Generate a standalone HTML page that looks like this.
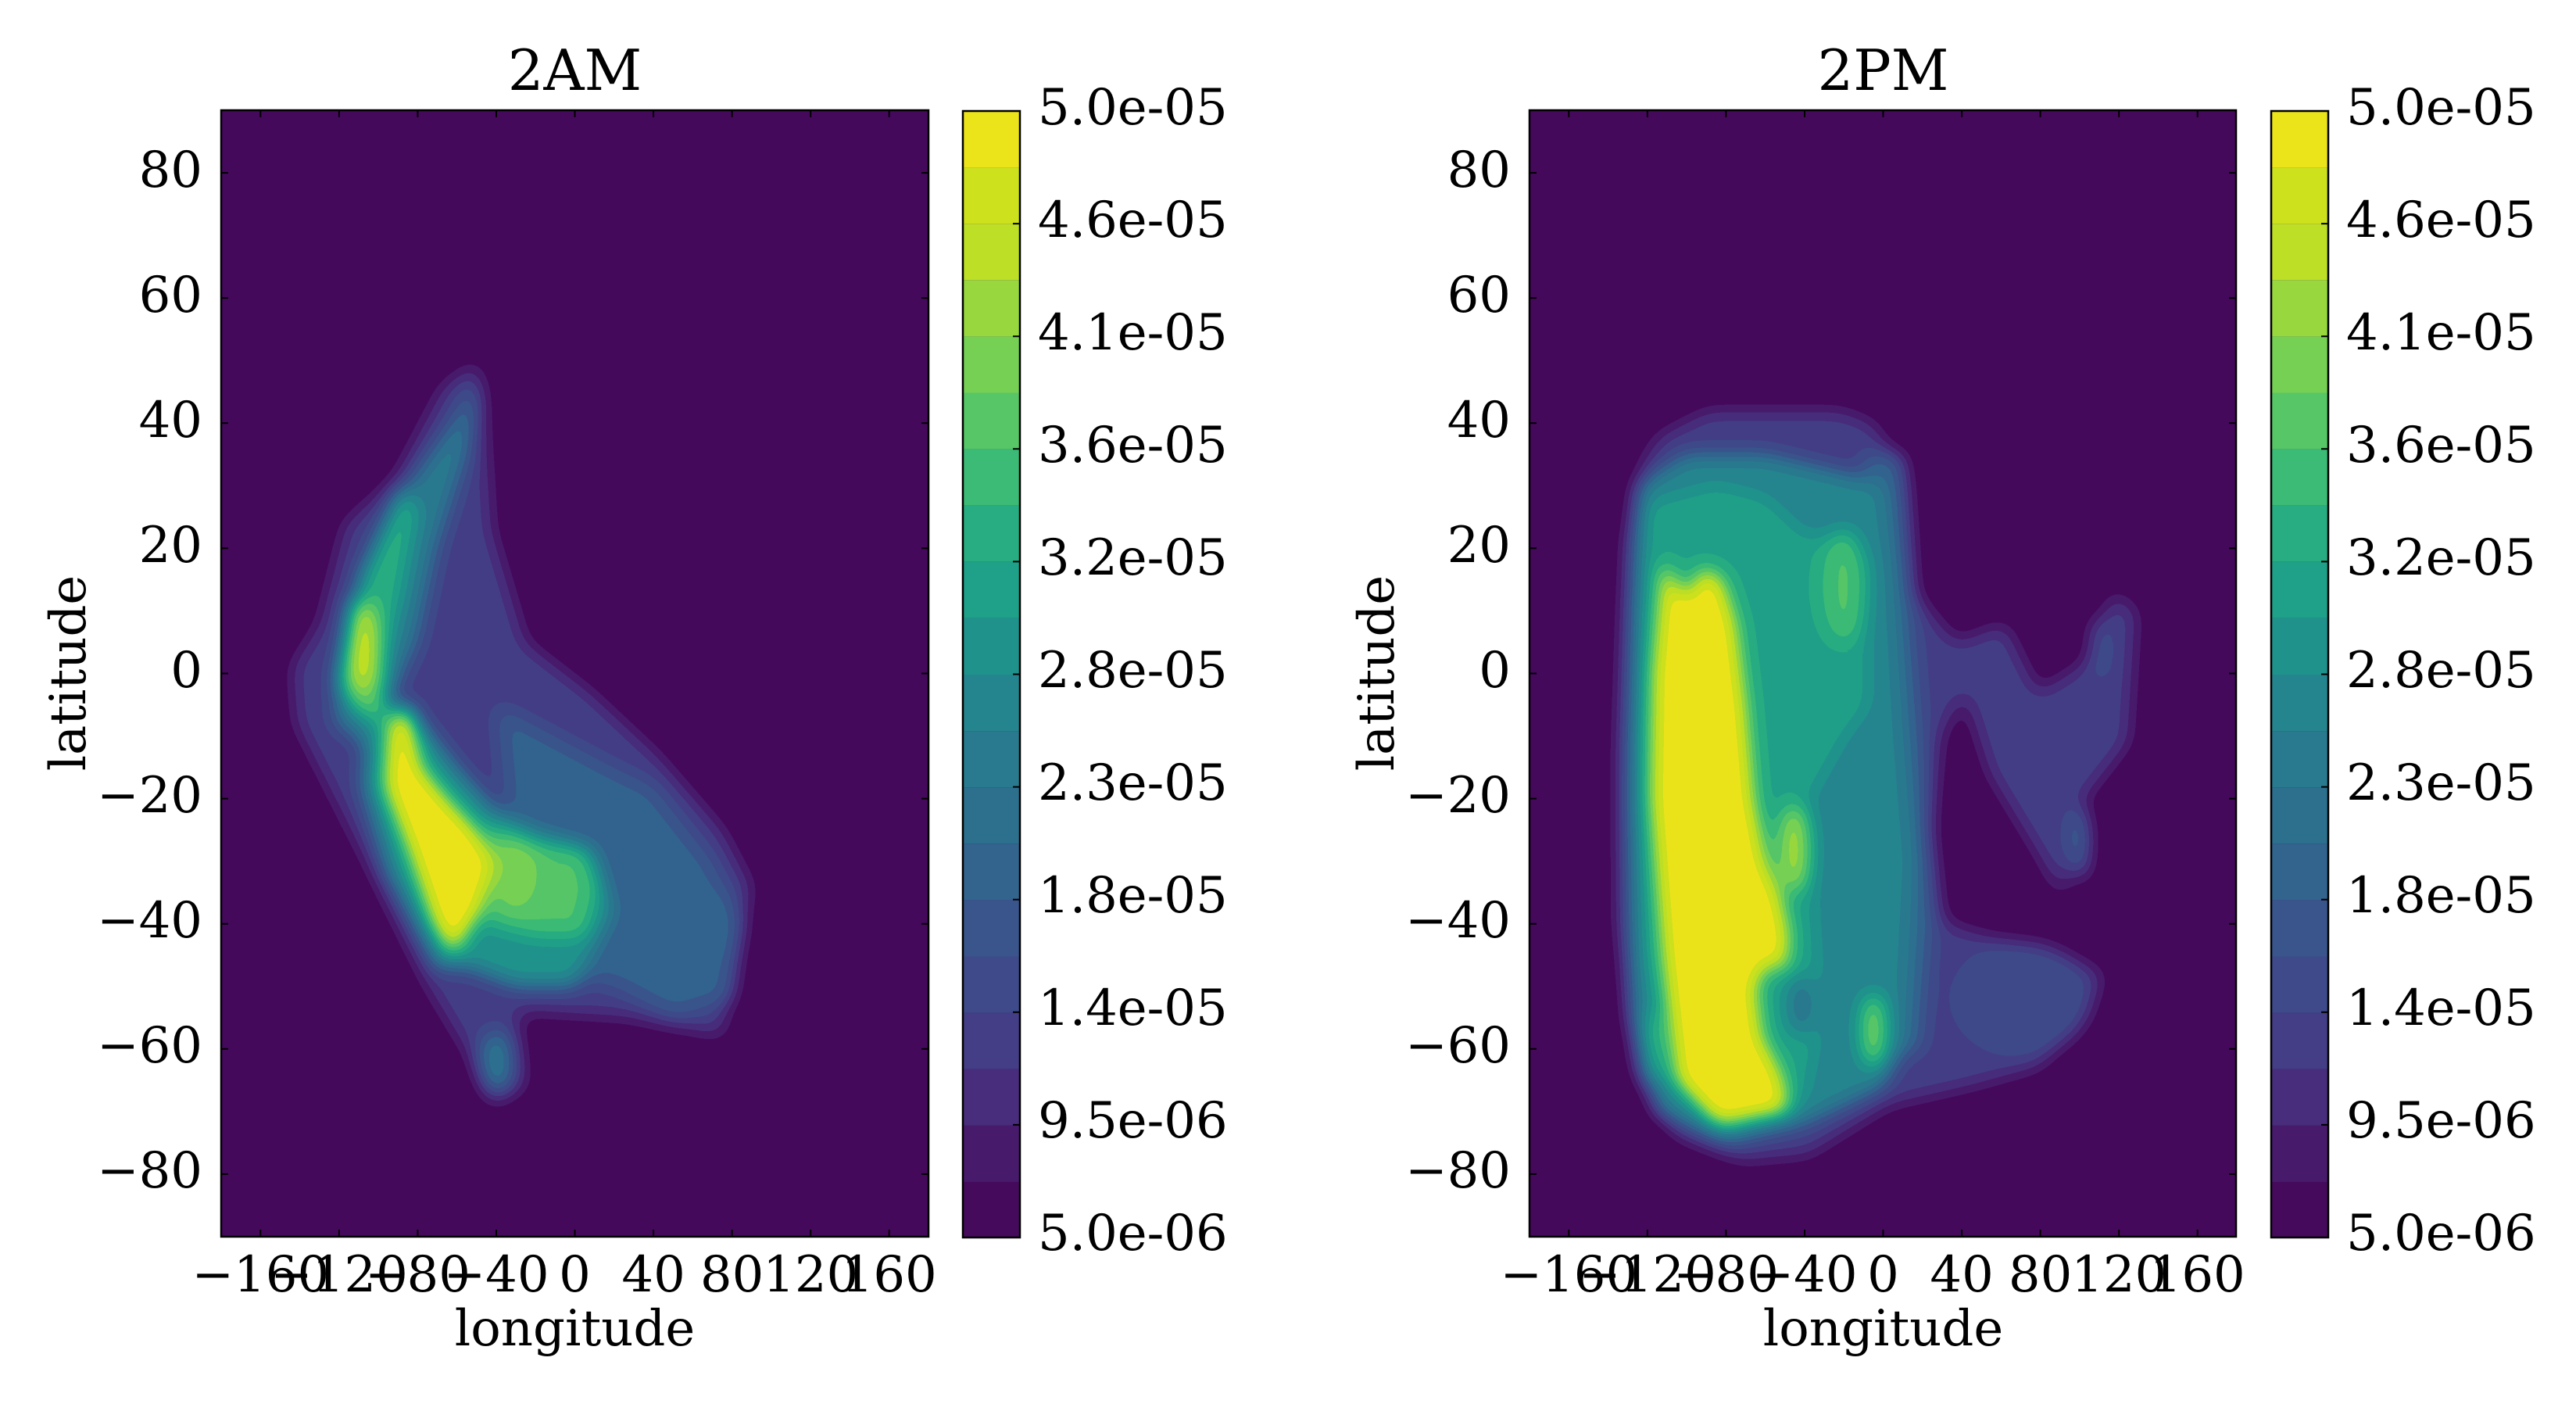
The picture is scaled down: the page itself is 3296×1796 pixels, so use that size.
<!DOCTYPE html>
<html><head><meta charset="utf-8"><style>
html,body{margin:0;padding:0;background:#fff}
svg{display:block}
text{font-family:"DejaVu Serif","Liberation Serif",serif;fill:#000}
</style></head><body>
<svg width="3296" height="1796" viewBox="0 0 3296 1796" xmlns="http://www.w3.org/2000/svg">
<defs>
<filter id="vir" filterUnits="userSpaceOnUse" x="0" y="0" width="3296" height="1796" color-interpolation-filters="sRGB">
<feGaussianBlur stdDeviation="13"/>
<feComponentTransfer>
<feFuncR type="discrete" tableValues=".271 .282 .278 .263 .243 .224 .196 .176 .161 .145 .122 .122 .153 .231 .337 .459 .596 .741 .804 .925"/>
<feFuncG type="discrete" tableValues=".039 .102 .176 .243 .290 .333 .392 .439 .478 .522 .573 .627 .678 .733 .776 .816 .847 .875 .882 .894"/>
<feFuncB type="discrete" tableValues=".361 .424 .482 .522 .537 .549 .557 .557 .557 .557 .549 .533 .506 .459 .404 .329 .243 .149 .114 .102"/>
<feFuncA type="linear" slope="0" intercept="1"/>
</feComponentTransfer>
</filter>
<clipPath id="c1"><rect x="283" y="141" width="905" height="1441"/></clipPath>
<clipPath id="c2"><rect x="1957" y="141" width="904" height="1441"/></clipPath>
</defs>

<!-- LEFT 2AM -->
<g clip-path="url(#c1)"><g filter="url(#vir)">
<rect x="200" y="60" width="1080" height="1600" fill="#000"/>
<g transform="matrix(2.5139 0 0 -8.0056 735.5 861.5)">
<polygon fill="rgb(45,45,45)" points="-50,49.7 -67,46 -92,31 -117,24 -130,8 -144,1 -142,-8 -121,-21 -100,-34 -75,-50 -54,-61 -42,-69 -25,-66 -29,-54 25,-55 75,-58 80,-50 90,-34 75,-25 42,-13 8,-3 -25,5 -42,23 -46,44"/>
<polygon fill="rgb(108,108,108)" points="-50,47 -62,40 -85,30 -100,20 -115,8 -122,0 -122,-8 -105,-12 -95,-5 -80,5 -70,20 -55,35"/>
<polygon fill="rgb(80,80,80)" points="-40,-5 -10,-10 20,-15 40,-18 70,-30 85,-40 80,-52 50,-55 20,-50 -10,-48 -30,-40"/>
<polygon fill="rgb(134,134,134)" points="-105,-5 -85,-5 -60,-15 -40,-22 -20,-25 10,-28 20,-38 0,-50 -30,-50 -55,-47 -70,-47 -95,-32 -108,-18"/>
<polygon fill="rgb(160,160,160)" points="-110,15 -100,22 -88,30 -80,26 -88,12 -98,0 -106,-6 -116,-4"/>
<polygon fill="rgb(190,190,190)" points="-114,12 -102,12 -96,0 -98,-8 -112,-6 -120,-2"/>
<ellipse cx="-108" cy="4" rx="8" ry="7" fill="rgb(228,228,228)"/>
<polygon fill="rgb(180,180,180)" points="-45,-24 -20,-27 5,-28 12,-34 5,-42 -20,-42 -45,-40"/>
<ellipse cx="-30" cy="-32" rx="12" ry="6" fill="rgb(200,200,200)"/>
<polygon fill="rgb(255,255,255)" points="-95,-8 -85,-5 -78,-15 -65,-20 -50,-25 -42,-30 -48,-38 -62,-45 -72,-40 -85,-28 -97,-18"/>
<ellipse cx="-40" cy="-62" rx="8" ry="5" fill="rgb(105,105,105)"/>
<ellipse cx="75" cy="-40" rx="6" ry="6" fill="rgb(85,85,85)"/>
<ellipse cx="48" cy="-40" rx="5" ry="4" fill="rgb(75,75,75)"/>
</g></g></g>

<!-- RIGHT 2PM -->
<g clip-path="url(#c2)"><g filter="url(#vir)">
<rect x="1880" y="60" width="1080" height="1600" fill="#000"/>
<g transform="matrix(2.5139 0 0 -8.0056 2409.5 861.5)">
<polygon fill="rgb(45,45,45)" points="-114,38 -89,42 -55,42 -22,42 -5,40 12,31 16,13 37,5 62,8 79,-3 104,2 117,13 129,10 125,-11 100,-21 95,-29 91,-36 79,-29 54,-16 41,-3 30,-10 25,-25 30,-38 33,-40 54,-42 87,-44 112,-48 104,-55 79,-63 45,-66 3,-69 -38,-77 -72,-78 -105,-74 -126,-63 -135,-40 -135,-11 -131,21 -122,34"/>
<polygon fill="rgb(85,85,85)" points="-10,35 10,35 15,10 20,-10 25,-40 20,-60 0,-62 -10,-40 -15,0"/>
<ellipse cx="70" cy="-52" rx="35" ry="9" fill="rgb(60,60,60)"/>
<polygon fill="rgb(120,120,120)" points="-125,30 -100,35 -60,35 -20,32 0,30 5,15 10,-10 15,-30 10,-60 0,-66 -40,-72 -80,-75 -115,-70 -128,-55 -130,-20 -128,10"/>
<polygon fill="rgb(150,150,150)" points="-120,27 -85,30 -60,28 -40,22 -20,22 -8,18 -8,-5 -20,-10 -38,-20 -35,-40 -32,-55 -40,-68 -80,-73 -110,-65 -122,-45 -125,-10"/>
<ellipse cx="-20" cy="14" rx="11" ry="9" fill="rgb(180,180,180)"/>
<ellipse cx="-5" cy="-57" rx="6" ry="6" fill="rgb(205,205,205)"/>
<ellipse cx="-45" cy="-28" rx="8" ry="7" fill="rgb(215,215,215)"/>
<polygon fill="rgb(255,255,255)" points="-112,18 -100,12 -92,17 -82,15 -75,8 -70,-5 -66,-20 -60,-30 -52,-36 -48,-42 -50,-48 -58,-46 -65,-50 -62,-58 -52,-64 -48,-70 -85,-72 -105,-65 -112,-45 -118,-20 -117,0"/>
<ellipse cx="-42" cy="-53" rx="7" ry="5" fill="rgb(100,100,100)"/>
<ellipse cx="-118" cy="-60" rx="4" ry="6" fill="rgb(170,170,170)"/>
<ellipse cx="100" cy="-27" rx="4" ry="6" fill="rgb(95,95,95)"/>
<ellipse cx="110" cy="4" rx="4" ry="5" fill="rgb(70,70,70)"/>
</g></g></g>

<g fill="none" stroke="#000" stroke-width="2.5">
<rect x="283" y="141" width="905" height="1441"/>
<rect x="1957" y="141" width="904" height="1441"/>
</g>

<!-- colorbars -->
<g id="cb">
<rect x="1232" y="142" width="73" height="1441" fill="#450a5c"/>
<rect x="1232" y="142" width="73" height="72.1" fill="#ece41a"/>
<rect x="1232" y="214.1" width="73" height="72.1" fill="#cde11d"/>
<rect x="1232" y="286.2" width="73" height="72.1" fill="#bddf26"/>
<rect x="1232" y="358.3" width="73" height="72.1" fill="#98d83e"/>
<rect x="1232" y="430.4" width="73" height="72.1" fill="#75d054"/>
<rect x="1232" y="502.5" width="73" height="72.1" fill="#56c667"/>
<rect x="1232" y="574.6" width="73" height="72.1" fill="#3bbb75"/>
<rect x="1232" y="646.7" width="73" height="72.1" fill="#27ad81"/>
<rect x="1232" y="718.8" width="73" height="72.1" fill="#1fa088"/>
<rect x="1232" y="790.9" width="73" height="72.1" fill="#1f928c"/>
<rect x="1232" y="863" width="73" height="72.1" fill="#25858e"/>
<rect x="1232" y="935.1" width="73" height="72.1" fill="#297a8e"/>
<rect x="1232" y="1007.2" width="73" height="72.1" fill="#2d708e"/>
<rect x="1232" y="1079.3" width="73" height="72.1" fill="#32648e"/>
<rect x="1232" y="1151.4" width="73" height="72.1" fill="#39558c"/>
<rect x="1232" y="1223.5" width="73" height="72.1" fill="#3e4a89"/>
<rect x="1232" y="1295.6" width="73" height="72.1" fill="#433e85"/>
<rect x="1232" y="1367.7" width="73" height="72.1" fill="#472d7b"/>
<rect x="1232" y="1439.8" width="73" height="72.1" fill="#481a6c"/>
<rect x="1232" y="142" width="73" height="1441" fill="none" stroke="#000" stroke-width="2.5"/>
</g>
<g transform="translate(1674,0)">
<rect x="1232" y="142" width="73" height="1441" fill="#450a5c"/>
<rect x="1232" y="142" width="73" height="72.1" fill="#ece41a"/>
<rect x="1232" y="214.1" width="73" height="72.1" fill="#cde11d"/>
<rect x="1232" y="286.2" width="73" height="72.1" fill="#bddf26"/>
<rect x="1232" y="358.3" width="73" height="72.1" fill="#98d83e"/>
<rect x="1232" y="430.4" width="73" height="72.1" fill="#75d054"/>
<rect x="1232" y="502.5" width="73" height="72.1" fill="#56c667"/>
<rect x="1232" y="574.6" width="73" height="72.1" fill="#3bbb75"/>
<rect x="1232" y="646.7" width="73" height="72.1" fill="#27ad81"/>
<rect x="1232" y="718.8" width="73" height="72.1" fill="#1fa088"/>
<rect x="1232" y="790.9" width="73" height="72.1" fill="#1f928c"/>
<rect x="1232" y="863" width="73" height="72.1" fill="#25858e"/>
<rect x="1232" y="935.1" width="73" height="72.1" fill="#297a8e"/>
<rect x="1232" y="1007.2" width="73" height="72.1" fill="#2d708e"/>
<rect x="1232" y="1079.3" width="73" height="72.1" fill="#32648e"/>
<rect x="1232" y="1151.4" width="73" height="72.1" fill="#39558c"/>
<rect x="1232" y="1223.5" width="73" height="72.1" fill="#3e4a89"/>
<rect x="1232" y="1295.6" width="73" height="72.1" fill="#433e85"/>
<rect x="1232" y="1367.7" width="73" height="72.1" fill="#472d7b"/>
<rect x="1232" y="1439.8" width="73" height="72.1" fill="#481a6c"/>
<rect x="1232" y="142" width="73" height="1441" fill="none" stroke="#000" stroke-width="2.5"/>
</g>

<g>
<g stroke="#000" stroke-width="2">
<path d="M333.3,1582v-9M333.3,141v9M433.9,1582v-9M433.9,141v9M534.4,1582v-9M534.4,141v9M635,1582v-9M635,141v9M735.5,1582v-9M735.5,141v9M836.1,1582v-9M836.1,141v9M936.6,1582v-9M936.6,141v9M1037.2,1582v-9M1037.2,141v9M1137.7,1582v-9M1137.7,141v9"/>
<path d="M283,1501.9h9M1188,1501.9h-9M283,1341.8h9M1188,1341.8h-9M283,1181.7h9M1188,1181.7h-9M283,1021.6h9M1188,1021.6h-9M283,861.5h9M1188,861.5h-9M283,701.4h9M1188,701.4h-9M283,541.3h9M1188,541.3h-9M283,381.2h9M1188,381.2h-9M283,221.1h9M1188,221.1h-9"/>
<path d="M1305,142h-9M1305,286.1h-9M1305,430.2h-9M1305,574.3h-9M1305,718.4h-9M1305,862.5h-9M1305,1006.6h-9M1305,1150.7h-9M1305,1294.8h-9M1305,1438.9h-9M1305,1583h-9"/>
</g>
<g font-size="64" text-anchor="middle">
<text x="333.3" y="1652">−160</text><text x="433.9" y="1652">−120</text><text x="534.4" y="1652">−80</text><text x="635" y="1652">−40</text><text x="735.5" y="1652">0</text><text x="836.1" y="1652">40</text><text x="936.6" y="1652">80</text><text x="1037.2" y="1652">120</text><text x="1137.7" y="1652">160</text>
</g>
<g font-size="64" text-anchor="end">
<text x="259" y="1519">−80</text><text x="259" y="1359">−60</text><text x="259" y="1199">−40</text><text x="259" y="1039">−20</text><text x="259" y="879">0</text><text x="259" y="719">20</text><text x="259" y="559">40</text><text x="259" y="399">60</text><text x="259" y="239">80</text>
</g>
<g font-size="64">
<text x="1328" y="159">5.0e-05</text><text x="1328" y="303">4.6e-05</text><text x="1328" y="447">4.1e-05</text><text x="1328" y="591">3.6e-05</text><text x="1328" y="735">3.2e-05</text><text x="1328" y="879">2.8e-05</text><text x="1328" y="1023">2.3e-05</text><text x="1328" y="1167">1.8e-05</text><text x="1328" y="1311">1.4e-05</text><text x="1328" y="1455">9.5e-06</text><text x="1328" y="1599">5.0e-06</text>
</g>
<text x="735.5" y="1721" font-size="64" text-anchor="middle">longitude</text>
<text transform="translate(109,861) rotate(-90)" font-size="64" text-anchor="middle">latitude</text>
</g>
<g transform="translate(1674,0)">
<g stroke="#000" stroke-width="2">
<path d="M333.3,1582v-9M333.3,141v9M433.9,1582v-9M433.9,141v9M534.4,1582v-9M534.4,141v9M635,1582v-9M635,141v9M735.5,1582v-9M735.5,141v9M836.1,1582v-9M836.1,141v9M936.6,1582v-9M936.6,141v9M1037.2,1582v-9M1037.2,141v9M1137.7,1582v-9M1137.7,141v9"/>
<path d="M283,1501.9h9M1187,1501.9h-9M283,1341.8h9M1187,1341.8h-9M283,1181.7h9M1187,1181.7h-9M283,1021.6h9M1187,1021.6h-9M283,861.5h9M1187,861.5h-9M283,701.4h9M1187,701.4h-9M283,541.3h9M1187,541.3h-9M283,381.2h9M1187,381.2h-9M283,221.1h9M1187,221.1h-9"/>
<path d="M1305,142h-9M1305,286.1h-9M1305,430.2h-9M1305,574.3h-9M1305,718.4h-9M1305,862.5h-9M1305,1006.6h-9M1305,1150.7h-9M1305,1294.8h-9M1305,1438.9h-9M1305,1583h-9"/>
</g>
<g font-size="64" text-anchor="middle">
<text x="333.3" y="1652">−160</text><text x="433.9" y="1652">−120</text><text x="534.4" y="1652">−80</text><text x="635" y="1652">−40</text><text x="735.5" y="1652">0</text><text x="836.1" y="1652">40</text><text x="936.6" y="1652">80</text><text x="1037.2" y="1652">120</text><text x="1137.7" y="1652">160</text>
</g>
<g font-size="64" text-anchor="end">
<text x="259" y="1519">−80</text><text x="259" y="1359">−60</text><text x="259" y="1199">−40</text><text x="259" y="1039">−20</text><text x="259" y="879">0</text><text x="259" y="719">20</text><text x="259" y="559">40</text><text x="259" y="399">60</text><text x="259" y="239">80</text>
</g>
<g font-size="64">
<text x="1328" y="159">5.0e-05</text><text x="1328" y="303">4.6e-05</text><text x="1328" y="447">4.1e-05</text><text x="1328" y="591">3.6e-05</text><text x="1328" y="735">3.2e-05</text><text x="1328" y="879">2.8e-05</text><text x="1328" y="1023">2.3e-05</text><text x="1328" y="1167">1.8e-05</text><text x="1328" y="1311">1.4e-05</text><text x="1328" y="1455">9.5e-06</text><text x="1328" y="1599">5.0e-06</text>
</g>
<text x="735.5" y="1721" font-size="64" text-anchor="middle">longitude</text>
<text transform="translate(109,861) rotate(-90)" font-size="64" text-anchor="middle">latitude</text>
</g>
<text x="735.5" y="115" font-size="72" text-anchor="middle">2AM</text>
<text x="2409.5" y="115" font-size="72" text-anchor="middle">2PM</text>
</svg>
</body></html>
